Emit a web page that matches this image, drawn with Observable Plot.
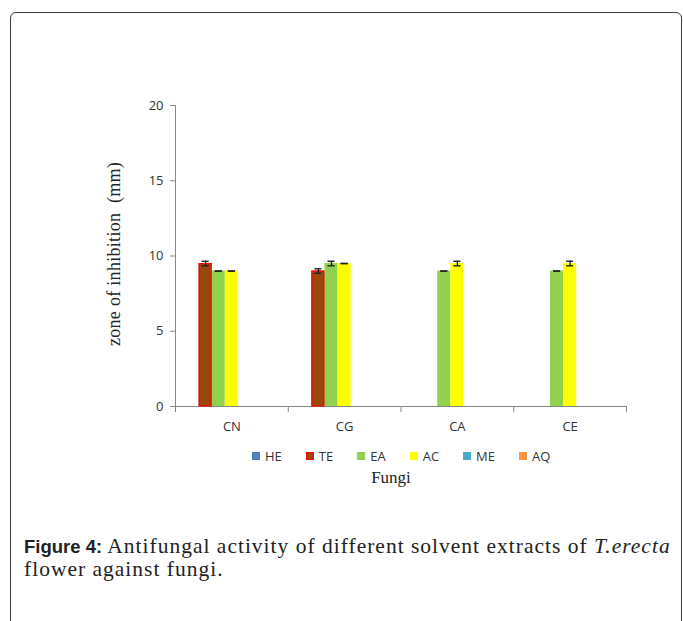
<!DOCTYPE html>
<html>
<head>
<meta charset="utf-8">
<script src="https://cdn.jsdelivr.net/npm/d3@7"></script>
<script src="https://cdn.jsdelivr.net/npm/@observablehq/plot@0.6"></script>
<style>
  html, body { margin: 0; padding: 0; background: #fff; }
  body { width: 683px; height: 621px; position: relative; overflow: hidden; }
  #box { position: absolute; left: 10px; top: 12px; width: 670px; height: 700px;
         border: 1.5px solid #3c3c3c; border-radius: 6px; }
  #chart { position: absolute; left: 0; top: 0; }
  #ylabel { position: absolute; left: 114px; top: 254px; transform: translate(-50%, -50%) rotate(-90deg);
            font-family: "Liberation Serif", serif; font-size: 18px; letter-spacing: 0.3px; color: #222; white-space: pre; }
  #legend { position: absolute; left: 252px; top: 447px; display: flex; align-items: center;
            font-family: "Open Sans", sans-serif; font-size: 13px; color: #333; }
  .item { display: flex; align-items: center; margin-right: 24px; }
  .sw { width: 8px; height: 8px; margin-right: 5px; box-sizing: border-box; }
  #xlabel { position: absolute; left: 391px; top: 468px; transform: translateX(-50%);
            font-family: "Liberation Serif", serif; font-size: 17px; color: #222; }
  #caption { position: absolute; left: 24px; top: 535px; font-family: "Liberation Serif", serif;
             font-size: 21.5px; letter-spacing: 1px; color: #222; white-space: nowrap; }
  .cl { height: 23px; line-height: 23px; }
  #caption b { font-family: "Liberation Sans", sans-serif; font-weight: bold; font-size: 18.5px; letter-spacing: 0; }
</style>
</head>
<body>
<div id="box"></div>
<div id="chart"></div>
<div id="ylabel"></div>
<div id="legend"></div>
<div id="xlabel"></div>
<div id="caption"><div class="cl"><b>Figure 4:</b> Antifungal activity of different solvent extracts of <i>T.erecta</i></div><div class="cl">flower against fungi.</div></div>
<script>
// ---- data ----
const fungi = ["CN", "CG", "CA", "CE"];
const solvents = ["HE", "TE", "EA", "AC", "ME", "AQ"];
const colors = ["#4f81bd", "#9a470d", "#92d050", "#ffff00", "#4bacc6", "#f79646"];
const HE = [0, 0, 0, 0];
const TE = [9.5, 9.0, 0, 0];
const EA = [9.0, 9.5, 9.0, 9.0];
const AC = [9.0, 9.5, 9.5, 9.5];
const ME = [0, 0, 0, 0];
const AQ = [0, 0, 0, 0];
const errTE = [0.15, 0.15, 0, 0];
const errEA = [0, 0.15, 0, 0];
const errAC = [0, 0, 0.15, 0.15];
const yTicks = [0, 5, 10, 15, 20];
const yLabel = "zone of inhibition  (mm)";
const xLabel = "Fungi";

const values = {HE, TE, EA, AC, ME, AQ};
const errs = {HE: HE.map(() => 0), TE: errTE, EA: errEA, AC: errAC, ME: ME.map(() => 0), AQ: AQ.map(() => 0)};
const rows = [];
solvents.forEach(s => fungi.forEach((f, i) => rows.push({fungus: f, solvent: s, value: values[s][i], err: errs[s][i]})));
const shown = rows.filter(d => d.value > 0);

const W = 683, H = 440, mt = 105, mb = 34, ml = 175, mr = 57;
const plotH = H - mt - mb;
const axisGray = "#868686";

const chart = Plot.plot({
  width: W, height: H,
  marginTop: mt, marginBottom: mb, marginLeft: ml, marginRight: mr,
  style: {fontFamily: "'Open Sans', sans-serif", fontSize: "13px", color: "#333", background: "transparent"},
  fx: {domain: fungi, padding: 0, round: false, label: null},
  x: {domain: [...solvents, "_"], paddingInner: 0, paddingOuter: 0.8, round: false, axis: null},
  y: {domain: [0, 20], label: null},
  color: {domain: solvents, range: colors},
  marks: [
    Plot.axisY({ticks: yTicks, tickSize: 5, tickPadding: 7, stroke: axisGray, fill: "#333", label: null, fontSize: 13}),
    Plot.axisFx({anchor: "bottom", tickSize: 0, tickPadding: 15, label: null, fill: "#333", fontSize: 13}),
    Plot.frame({anchor: "left", facetAnchor: "left", stroke: axisGray}),
    Plot.ruleY([0], {stroke: axisGray}),
    Plot.frame({anchor: "left", insetTop: plotH, insetBottom: -5, stroke: axisGray}),
    Plot.frame({anchor: "right", facetAnchor: "right", insetTop: plotH, insetBottom: -5, stroke: axisGray}),
    Plot.barY(shown, {fx: "fungus", x: "solvent", y: "value", fill: "solvent"}),
    Plot.barY(shown.filter(d => d.solvent === "TE"), {fx: "fungus", x: "solvent", y: "value",
      fill: "none", stroke: "#ff0000", strokeWidth: 1.2, insetLeft: 0.6, insetRight: 0.6, insetTop: 0.6}),
    Plot.ruleX(shown, {fx: "fungus", x: "solvent", y1: d => d.value - d.err, y2: d => d.value + d.err, stroke: "#111", strokeWidth: 1.3}),
    Plot.tickY(shown, {fx: "fungus", x: "solvent", y: d => d.value + d.err, stroke: "#222", strokeWidth: 1.4, insetLeft: 3, insetRight: 3}),
    Plot.tickY(shown, {fx: "fungus", x: "solvent", y: d => d.value - d.err, stroke: "#222", strokeWidth: 1.4, insetLeft: 3, insetRight: 3})
  ]
});
document.getElementById("chart").appendChild(chart);

document.getElementById("ylabel").textContent = yLabel;
document.getElementById("xlabel").textContent = xLabel;
const legend = document.getElementById("legend");
solvents.forEach((s, i) => {
  const it = document.createElement("div");
  it.className = "item";
  const sw = document.createElement("div");
  sw.className = "sw";
  sw.style.background = colors[i];
  if (s === "TE") sw.style.border = "1px solid #ff0000";
  const lb = document.createElement("span");
  lb.textContent = s;
  it.appendChild(sw); it.appendChild(lb);
  legend.appendChild(it);
});
</script>
</body>
</html>
